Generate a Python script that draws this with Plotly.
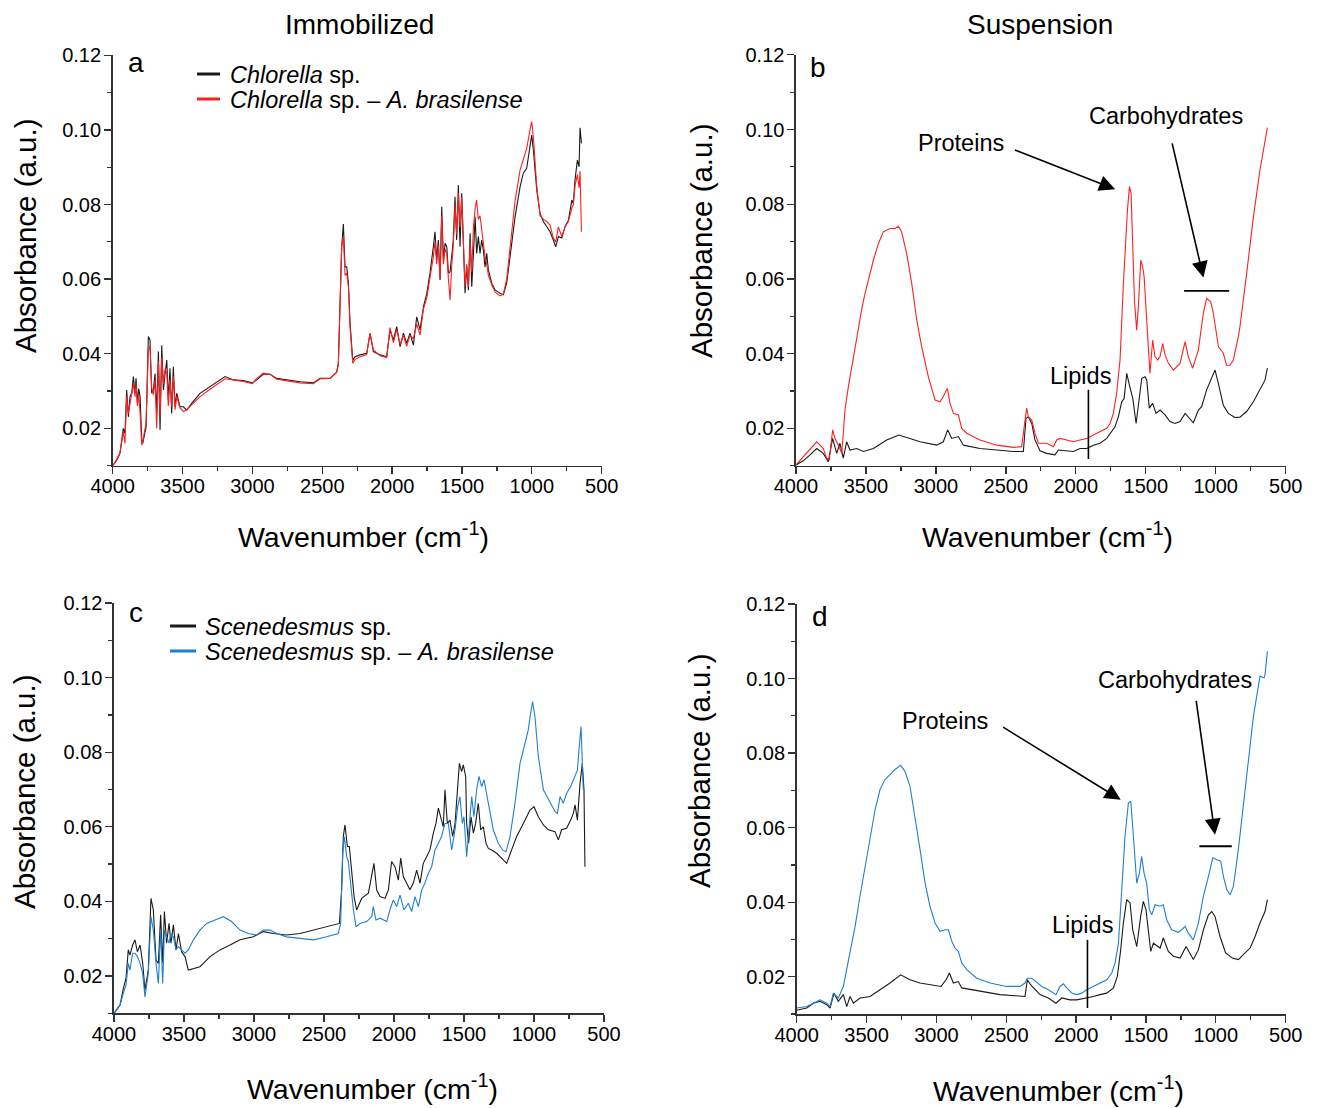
import plotly.graph_objects as go

W, H = 1317, 1108
FONT = "Arial, Liberation Sans, sans-serif"
BLACK = "#1a1a1a"
RED = "#ff1f1f"
BLUE = "#1f7fd0"

# ---------------- Panel a (immobilized Chlorella) ----------------
a_wn = [4000, 3971, 3948, 3936, 3924, 3912, 3900, 3888, 3876, 3864, 3852, 3840, 3833, 3823, 3814, 3804,
        3792, 3785, 3773, 3761, 3745, 3733, 3721, 3709, 3697, 3685, 3673, 3661, 3649, 3637, 3625, 3613,
        3602, 3590, 3578, 3566, 3554, 3542, 3518, 3494, 3470, 3435, 3375, 3303, 3232, 3196, 3136, 3065,
        3000, 2969, 2922, 2874, 2826, 2755, 2659, 2564, 2516, 2444, 2397, 2385, 2373, 2361, 2349, 2337,
        2325, 2313, 2301, 2282, 2265, 2230, 2182, 2158, 2134, 2086, 2039, 2015, 1991, 1967, 1943, 1919,
        1896, 1872, 1848, 1824, 1800, 1776, 1752, 1729, 1705, 1693, 1681, 1669, 1657, 1645, 1633, 1621,
        1609, 1597, 1585, 1573, 1562, 1550, 1538, 1526, 1514, 1502, 1490, 1478, 1466, 1454, 1442, 1430,
        1418, 1406, 1395, 1383, 1371, 1359, 1347, 1335, 1323, 1311, 1287, 1263, 1228, 1204, 1180, 1156,
        1120, 1084, 1061, 1037, 1013, 1001, 989, 965, 941, 917, 894, 870, 846, 829, 810, 786, 762, 738,
        714, 703, 691, 674, 662, 655, 645]
a_chlorella = [0.0100, 0.0115, 0.0133, 0.0173, 0.0200, 0.0187, 0.0303, 0.0231, 0.0285, 0.0294, 0.0339, 0.0294,
               0.0334, 0.0267, 0.0307, 0.0285, 0.0169, 0.0160, 0.0187, 0.0204, 0.0446, 0.0437, 0.0294, 0.0303,
               0.0347, 0.0240, 0.0406, 0.0196, 0.0423, 0.0303, 0.0347, 0.0383, 0.0276, 0.0361, 0.0240, 0.0365,
               0.0258, 0.0294, 0.0258, 0.0258, 0.0249, 0.0267, 0.0294, 0.0312, 0.0330, 0.0339, 0.0330, 0.0328,
               0.0322, 0.0330, 0.0345, 0.0345, 0.0334, 0.0330, 0.0325, 0.0322, 0.0334, 0.0334, 0.0351, 0.0374,
               0.0544, 0.0687, 0.0748, 0.0633, 0.0633, 0.0589, 0.0482, 0.0383, 0.0392, 0.0397, 0.0401, 0.0455,
               0.0406, 0.0397, 0.0392, 0.0464, 0.0437, 0.0473, 0.0419, 0.0455, 0.0428, 0.0455, 0.0423, 0.0499,
               0.0464, 0.0526, 0.0562, 0.0616, 0.0687, 0.0727, 0.0651, 0.0705, 0.0598, 0.0794, 0.0651, 0.0696,
               0.0687, 0.0616, 0.0620, 0.0660, 0.0705, 0.0821, 0.0705, 0.0852, 0.0687, 0.0830, 0.0696, 0.0562,
               0.0633, 0.0571, 0.0723, 0.0580, 0.0669, 0.0767, 0.0669, 0.0714, 0.0669, 0.0705, 0.0678, 0.0633,
               0.0669, 0.0624, 0.0589, 0.0571, 0.0562, 0.0558, 0.0589, 0.0660, 0.0767, 0.0848, 0.0884, 0.0897,
               0.0955, 0.0986, 0.0946, 0.0839, 0.0776, 0.0754, 0.0741, 0.0727, 0.0705, 0.0687, 0.0714, 0.0710,
               0.0741, 0.0758, 0.0812, 0.0803, 0.0866, 0.0919, 0.0901, 0.1006, 0.0964]
a_chlorella_azo = [0.0100, 0.0117, 0.0135, 0.0165, 0.0190, 0.0160, 0.0285, 0.0240, 0.0270, 0.0300, 0.0320, 0.0285,
                   0.0320, 0.0260, 0.0290, 0.0240, 0.0155, 0.0165, 0.0190, 0.0215, 0.0410, 0.0420, 0.0310, 0.0290,
                   0.0330, 0.0200, 0.0380, 0.0230, 0.0390, 0.0320, 0.0360, 0.0350, 0.0260, 0.0330, 0.0260, 0.0340,
                   0.0250, 0.0285, 0.0255, 0.0245, 0.0250, 0.0262, 0.0285, 0.0305, 0.0325, 0.0333, 0.0330, 0.0326,
                   0.0320, 0.0334, 0.0348, 0.0345, 0.0332, 0.0328, 0.0322, 0.0320, 0.0333, 0.0334, 0.0350, 0.0370,
                   0.0520, 0.0690, 0.0714, 0.0610, 0.0616, 0.0580, 0.0470, 0.0375, 0.0385, 0.0392, 0.0398, 0.0455,
                   0.0410, 0.0395, 0.0390, 0.0470, 0.0430, 0.0465, 0.0425, 0.0450, 0.0420, 0.0450, 0.0440, 0.0480,
                   0.0450, 0.0520, 0.0550, 0.0600, 0.0660, 0.0700, 0.0640, 0.0690, 0.0600, 0.0770, 0.0640, 0.0680,
                   0.0670, 0.0600, 0.0544, 0.0640, 0.0690, 0.0800, 0.0720, 0.0830, 0.0740, 0.0820, 0.0680, 0.0580,
                   0.0640, 0.0580, 0.0700, 0.0620, 0.0740, 0.0790, 0.0812, 0.0760, 0.0770, 0.0730, 0.0700, 0.0660,
                   0.0640, 0.0610, 0.0585, 0.0565, 0.0555, 0.0560, 0.0600, 0.0690, 0.0810, 0.0893, 0.0924, 0.0950,
                   0.1000, 0.1022, 0.0980, 0.0850, 0.0770, 0.0760, 0.0755, 0.0745, 0.0710, 0.0700, 0.0740, 0.0715,
                   0.0740, 0.0755, 0.0790, 0.0800, 0.0850, 0.0880, 0.0845, 0.0890, 0.0727]

# ---------------- Panel b (suspension Chlorella) ----------------
b_azo_wn = [4000, 3948, 3900, 3876, 3852, 3828, 3805, 3781, 3762, 3738, 3721, 3697, 3673, 3662, 3650, 3626,
            3602, 3578, 3555, 3531, 3507, 3483, 3447, 3411, 3376, 3328, 3292, 3268, 3245, 3209, 3173, 3137,
            3102, 3054, 3006, 2971, 2947, 2918, 2899, 2875, 2851, 2839, 2816, 2780, 2685, 2566, 2446, 2387,
            2363, 2351, 2339, 2315, 2292, 2268, 2208, 2160, 2137, 2113, 2065, 2018, 1970, 1922, 1875, 1827,
            1779, 1755, 1732, 1708, 1684, 1660, 1643, 1631, 1617, 1605, 1593, 1581, 1565, 1553, 1536, 1522,
            1512, 1493, 1470, 1451, 1434, 1415, 1398, 1379, 1362, 1338, 1303, 1255, 1219, 1196, 1165, 1124,
            1089, 1065, 1036, 1017, 981, 946, 922, 898, 874, 839, 827, 779, 731, 684, 648, 631]
b_chlorella_azo = [0.0102, 0.0124, 0.0146, 0.0155, 0.0164, 0.0155, 0.0146, 0.0120, 0.0116, 0.0196, 0.0173, 0.0155,
                   0.0133, 0.0187, 0.0249, 0.0311, 0.0365, 0.0419, 0.0472, 0.0517, 0.0561, 0.0597, 0.0650, 0.0695,
                   0.0726, 0.0735, 0.0735, 0.0741, 0.0726, 0.0668, 0.0588, 0.0490, 0.0419, 0.0338, 0.0276, 0.0271,
                   0.0285, 0.0307, 0.0267, 0.0240, 0.0236, 0.0236, 0.0200, 0.0187, 0.0169, 0.0155, 0.0149, 0.0151,
                   0.0222, 0.0254, 0.0231, 0.0222, 0.0187, 0.0160, 0.0160, 0.0151, 0.0169, 0.0173, 0.0169, 0.0164,
                   0.0169, 0.0173, 0.0182, 0.0191, 0.0200, 0.0213, 0.0240, 0.0294, 0.0383, 0.0588, 0.0722, 0.0784,
                   0.0847, 0.0829, 0.0686, 0.0543, 0.0463, 0.0526, 0.0650, 0.0633, 0.0606, 0.0472, 0.0347, 0.0436,
                   0.0392, 0.0383, 0.0392, 0.0427, 0.0396, 0.0374, 0.0356, 0.0374, 0.0432, 0.0392, 0.0361, 0.0410,
                   0.0508, 0.0548, 0.0539, 0.0508, 0.0419, 0.0401, 0.0369, 0.0369, 0.0383, 0.0445, 0.0472, 0.0615,
                   0.0766, 0.0891, 0.0971, 0.1005]
b_wn = [4000, 3948, 3900, 3852, 3805, 3769, 3738, 3709, 3686, 3662, 3638, 3614, 3566, 3519, 3447, 3352,
        3264, 3209, 3113, 2994, 2947, 2916, 2887, 2839, 2804, 2685, 2566, 2446, 2375, 2356, 2339, 2315,
        2292, 2256, 2208, 2149, 2125, 2065, 2018, 1970, 1922, 1875, 1827, 1779, 1743, 1720, 1696, 1672,
        1655, 1636, 1617, 1593, 1569, 1545, 1529, 1505, 1493, 1475, 1451, 1427, 1398, 1362, 1327, 1291,
        1255, 1219, 1189, 1160, 1124, 1101, 1065, 1029, 1005, 981, 946, 910, 863, 827, 779, 731, 684, 648, 631]
b_chlorella = [0.0102, 0.0113, 0.0129, 0.0146, 0.0133, 0.0111, 0.0173, 0.0133, 0.0160, 0.0120, 0.0164, 0.0142,
               0.0146, 0.0138, 0.0146, 0.0169, 0.0182, 0.0175, 0.0164, 0.0155, 0.0164, 0.0196, 0.0173, 0.0178,
               0.0155, 0.0146, 0.0142, 0.0138, 0.0138, 0.0227, 0.0231, 0.0213, 0.0169, 0.0140, 0.0133, 0.0129,
               0.0142, 0.0140, 0.0138, 0.0146, 0.0146, 0.0155, 0.0160, 0.0173, 0.0191, 0.0204, 0.0231, 0.0271,
               0.0280, 0.0347, 0.0316, 0.0280, 0.0213, 0.0285, 0.0334, 0.0338, 0.0329, 0.0254, 0.0267, 0.0240,
               0.0249, 0.0236, 0.0218, 0.0213, 0.0218, 0.0240, 0.0227, 0.0215, 0.0249, 0.0258, 0.0303, 0.0338,
               0.0356, 0.0320, 0.0262, 0.0240, 0.0229, 0.0230, 0.0245, 0.0271, 0.0303, 0.0329, 0.0361]

# ---------------- Panel c (immobilized Scenedesmus) ----------------
c_wn = [4000, 3957, 3933, 3914, 3898, 3886, 3867, 3850, 3833, 3814, 3795, 3779, 3755, 3736, 3719, 3700,
        3683, 3667, 3652, 3640, 3624, 3607, 3593, 3576, 3557, 3540, 3517, 3493, 3469, 3433, 3386, 3314,
        3243, 3171, 3100, 3005, 2933, 2862, 2767, 2671, 2576, 2481, 2390, 2374, 2362, 2350, 2333, 2319,
        2302, 2285, 2267, 2231, 2183, 2159, 2143, 2124, 2100, 2064, 2040, 2017, 1993, 1969, 1952, 1933,
        1910, 1886, 1862, 1838, 1814, 1791, 1767, 1743, 1719, 1700, 1683, 1667, 1648, 1636, 1619, 1600,
        1581, 1564, 1545, 1533, 1517, 1505, 1488, 1481, 1467, 1450, 1433, 1417, 1398, 1381, 1362, 1343,
        1326, 1302, 1267, 1231, 1195, 1160, 1124, 1076, 1029, 1000, 969, 933, 897, 850, 826, 803, 767,
        738, 719, 707, 690, 671, 655, 643, 636]
c_scenedesmus = [0.0100, 0.0122, 0.0167, 0.0194, 0.0270, 0.0256, 0.0283, 0.0297, 0.0265, 0.0283, 0.0234, 0.0162,
                 0.0216, 0.0408, 0.0377, 0.0243, 0.0234, 0.0364, 0.0234, 0.0373, 0.0288, 0.0341, 0.0288, 0.0337,
                 0.0270, 0.0314, 0.0265, 0.0252, 0.0216, 0.0220, 0.0225, 0.0252, 0.0270, 0.0283, 0.0297, 0.0305,
                 0.0319, 0.0314, 0.0310, 0.0314, 0.0323, 0.0331, 0.0341, 0.0431, 0.0574, 0.0605, 0.0547, 0.0547,
                 0.0476, 0.0413, 0.0377, 0.0408, 0.0422, 0.0466, 0.0502, 0.0431, 0.0413, 0.0408, 0.0431, 0.0507,
                 0.0493, 0.0457, 0.0516, 0.0466, 0.0449, 0.0431, 0.0449, 0.0484, 0.0449, 0.0502, 0.0520, 0.0538,
                 0.0583, 0.0609, 0.0650, 0.0627, 0.0600, 0.0699, 0.0609, 0.0618, 0.0574, 0.0609, 0.0717, 0.0770,
                 0.0748, 0.0766, 0.0735, 0.0609, 0.0556, 0.0627, 0.0583, 0.0609, 0.0663, 0.0592, 0.0600, 0.0556,
                 0.0542, 0.0538, 0.0529, 0.0516, 0.0502, 0.0538, 0.0574, 0.0609, 0.0645, 0.0654, 0.0627, 0.0605,
                 0.0592, 0.0587, 0.0565, 0.0592, 0.0596, 0.0618, 0.0636, 0.0659, 0.0618, 0.0717, 0.0770, 0.0699,
                 0.0493]
c_azo_wn = [4000, 3957, 3933, 3914, 3898, 3886, 3867, 3850, 3833, 3814, 3795, 3779, 3755, 3736, 3719, 3700,
            3683, 3667, 3652, 3640, 3624, 3607, 3593, 3576, 3557, 3540, 3517, 3493, 3469, 3433, 3386, 3338,
            3279, 3219, 3160, 3100, 3040, 2981, 2933, 2886, 2838, 2767, 2671, 2576, 2481, 2398, 2381, 2367,
            2355, 2338, 2326, 2309, 2290, 2271, 2243, 2195, 2159, 2148, 2129, 2100, 2052, 2029, 2005, 1981,
            1957, 1929, 1898, 1874, 1850, 1826, 1802, 1779, 1755, 1731, 1707, 1683, 1660, 1636, 1612, 1588,
            1564, 1545, 1529, 1512, 1500, 1481, 1464, 1445, 1429, 1410, 1393, 1374, 1357, 1338, 1319, 1291,
            1255, 1224, 1200, 1171, 1136, 1100, 1064, 1041, 1024, 1010, 993, 969, 933, 897, 850, 833, 814,
            791, 767, 738, 707, 690, 679, 664, 648]
c_scenedesmus_azo = [0.0100, 0.0122, 0.0154, 0.0176, 0.0234, 0.0216, 0.0261, 0.0261, 0.0252, 0.0234, 0.0207, 0.0144,
                     0.0207, 0.0359, 0.0323, 0.0234, 0.0180, 0.0323, 0.0180, 0.0323, 0.0305, 0.0288, 0.0314, 0.0305,
                     0.0270, 0.0279, 0.0270, 0.0261, 0.0270, 0.0297, 0.0323, 0.0341, 0.0350, 0.0359, 0.0346, 0.0323,
                     0.0314, 0.0310, 0.0323, 0.0323, 0.0314, 0.0305, 0.0301, 0.0297, 0.0305, 0.0314, 0.0341, 0.0529,
                     0.0574, 0.0520, 0.0507, 0.0449, 0.0377, 0.0332, 0.0341, 0.0346, 0.0359, 0.0386, 0.0350, 0.0355,
                     0.0346, 0.0377, 0.0404, 0.0386, 0.0417, 0.0377, 0.0395, 0.0373, 0.0413, 0.0386, 0.0431, 0.0449,
                     0.0475, 0.0493, 0.0538, 0.0556, 0.0574, 0.0609, 0.0609, 0.0538, 0.0592, 0.0654, 0.0681, 0.0609,
                     0.0627, 0.0520, 0.0592, 0.0681, 0.0627, 0.0699, 0.0735, 0.0708, 0.0726, 0.0690, 0.0654, 0.0592,
                     0.0556, 0.0538, 0.0533, 0.0574, 0.0663, 0.0770, 0.0824, 0.0860, 0.0904, 0.0936, 0.0895, 0.0788,
                     0.0699, 0.0672, 0.0641, 0.0636, 0.0681, 0.0663, 0.0690, 0.0708, 0.0739, 0.0752, 0.0806, 0.0869,
                     0.0699]

# ---------------- Panel d (suspension Scenedesmus) ----------------
d_azo_wn = [4000, 3928, 3881, 3833, 3785, 3761, 3738, 3702, 3666, 3642, 3618, 3582, 3547, 3511, 3475, 3439,
            3404, 3368, 3332, 3296, 3256, 3225, 3189, 3153, 3117, 3081, 3046, 3010, 2974, 2938, 2914, 2890,
            2867, 2843, 2819, 2783, 2712, 2616, 2497, 2401, 2366, 2349, 2318, 2287, 2246, 2199, 2163, 2144,
            2115, 2091, 2067, 2032, 1996, 1960, 1924, 1876, 1829, 1781, 1745, 1721, 1697, 1673, 1650, 1626,
            1609, 1590, 1566, 1547, 1531, 1514, 1495, 1476, 1459, 1435, 1399, 1376, 1352, 1316, 1268, 1245,
            1220, 1197, 1161, 1125, 1089, 1053, 1022, 993, 965, 946, 922, 898, 874, 839, 803, 767, 731, 684,
            655, 648, 631]
d_scenedesmus_azo = [0.0116, 0.0120, 0.0129, 0.0138, 0.0129, 0.0120, 0.0156, 0.0143, 0.0174, 0.0219, 0.0264, 0.0335,
                     0.0416, 0.0496, 0.0577, 0.0648, 0.0702, 0.0729, 0.0742, 0.0756, 0.0767, 0.0751, 0.0711, 0.0630,
                     0.0541, 0.0451, 0.0389, 0.0344, 0.0322, 0.0326, 0.0326, 0.0295, 0.0277, 0.0268, 0.0237, 0.0219,
                     0.0196, 0.0183, 0.0174, 0.0174, 0.0183, 0.0196, 0.0196, 0.0187, 0.0174, 0.0165, 0.0156, 0.0152,
                     0.0174, 0.0181, 0.0170, 0.0156, 0.0152, 0.0156, 0.0165, 0.0174, 0.0183, 0.0192, 0.0210, 0.0237,
                     0.0290, 0.0434, 0.0577, 0.0666, 0.0671, 0.0577, 0.0451, 0.0478, 0.0523, 0.0478, 0.0451, 0.0380,
                     0.0366, 0.0393, 0.0389, 0.0393, 0.0353, 0.0326, 0.0319, 0.0326, 0.0335, 0.0317, 0.0299, 0.0344,
                     0.0416, 0.0469, 0.0519, 0.0514, 0.0510, 0.0469, 0.0434, 0.0420, 0.0443, 0.0541, 0.0657, 0.0783,
                     0.0899, 0.1006, 0.1002, 0.1010, 0.1073]
d_wn = [4000, 3928, 3881, 3833, 3785, 3761, 3733, 3702, 3666, 3642, 3618, 3594, 3547, 3475, 3404, 3332,
        3256, 3189, 3117, 3022, 2967, 2931, 2907, 2879, 2843, 2819, 2688, 2545, 2366, 2349, 2325, 2294,
        2258, 2199, 2144, 2103, 2044, 1996, 1924, 1876, 1829, 1781, 1733, 1705, 1681, 1662, 1638, 1614,
        1595, 1566, 1538, 1519, 1500, 1483, 1466, 1447, 1419, 1399, 1376, 1340, 1304, 1256, 1213, 1185,
        1161, 1125, 1089, 1053, 1029, 1006, 970, 930, 882, 839, 791, 755, 719, 684, 648, 631]
d_scenedesmus = [0.0110, 0.0116, 0.0129, 0.0134, 0.0125, 0.0116, 0.0156, 0.0134, 0.0152, 0.0120, 0.0147, 0.0129,
                 0.0143, 0.0147, 0.0165, 0.0183, 0.0205, 0.0192, 0.0183, 0.0178, 0.0174, 0.0192, 0.0210, 0.0183,
                 0.0187, 0.0170, 0.0161, 0.0152, 0.0147, 0.0192, 0.0178, 0.0165, 0.0152, 0.0143, 0.0129, 0.0143,
                 0.0138, 0.0138, 0.0143, 0.0147, 0.0152, 0.0156, 0.0170, 0.0201, 0.0272, 0.0344, 0.0407, 0.0398,
                 0.0326, 0.0281, 0.0362, 0.0402, 0.0380, 0.0326, 0.0268, 0.0290, 0.0281, 0.0277, 0.0304, 0.0268,
                 0.0255, 0.0250, 0.0281, 0.0263, 0.0246, 0.0272, 0.0326, 0.0366, 0.0375, 0.0362, 0.0308, 0.0264,
                 0.0250, 0.0246, 0.0264, 0.0277, 0.0308, 0.0344, 0.0375, 0.0407]

# ---------------- Text ----------------
titles = ["Immobilized", "Suspension"]
panel_letters = ["a", "b", "c", "d"]
y_ticks = [0.02, 0.04, 0.06, 0.08, 0.10, 0.12]
y_tick_text = ["0.02", "0.04", "0.06", "0.08", "0.10", "0.12"]
x_ticks = [4000, 3500, 3000, 2500, 2000, 1500, 1000, 500]

fig = go.Figure()

def add(xs, ys, color, n):
    fig.add_trace(go.Scatter(x=xs, y=ys, mode="lines", line=dict(color=color, width=1.1),
                             xaxis="x" if n == 1 else f"x{n}", yaxis="y" if n == 1 else f"y{n}",
                             showlegend=False, hoverinfo="skip"))

add(a_wn, a_chlorella, BLACK, 1)
add(a_wn, a_chlorella_azo, RED, 1)
add(b_wn, b_chlorella, BLACK, 2)
add(b_azo_wn, b_chlorella_azo, RED, 2)
add(c_wn, c_scenedesmus, BLACK, 3)
add(c_azo_wn, c_scenedesmus_azo, BLUE, 3)
add(d_wn, d_scenedesmus, BLACK, 4)
add(d_azo_wn, d_scenedesmus_azo, BLUE, 4)

def px(x):
    return x / W

def py(y):
    return 1 - y / H

domains = {
    1: ([112.7, 601.7], [55.3, 465.7]),
    2: ([796.0, 1285.7], [54.8, 465.7]),
    3: ([114.0, 604.0], [603.0, 1013.3]),
    4: ([796.7, 1285.7], [604.0, 1014.0]),
}
layout = dict(template="none", width=W, height=H, autosize=False,
              margin=dict(l=0, r=0, t=0, b=0, pad=0, autoexpand=False),
              paper_bgcolor="white", plot_bgcolor="white", showlegend=False,
              font=dict(family=FONT, color="black"))
axcol = "#333333"
for n, (xd, yd) in domains.items():
    sx = "" if n == 1 else str(n)
    layout[f"xaxis{sx}"] = dict(
        domain=[px(xd[0]), px(xd[1])], range=[4000, 500], anchor=f"y{sx}", automargin=False,
        tickvals=x_ticks, ticks="outside", ticklen=7, tickwidth=1.3, tickcolor=axcol, ticklabelstandoff=-5,
        showline=True, linecolor=axcol, linewidth=1.6, showgrid=False, zeroline=False,
        tickfont=dict(size=20, family=FONT, color="black"),
        minor=dict(dtick=250, tick0=500, ticks="outside", ticklen=4, tickwidth=1.2, tickcolor=axcol, showgrid=False),
    )
    layout[f"yaxis{sx}"] = dict(
        domain=[py(yd[1]), py(yd[0])], range=[0.01, 0.12], anchor=f"x{sx}", automargin=False,
        tickvals=y_ticks, ticktext=y_tick_text, ticks="outside", ticklen=7, tickwidth=1.3, tickcolor=axcol,
        ticklabelstandoff=-1,
        showline=True, linecolor=axcol, linewidth=1.6, showgrid=False, zeroline=False,
        tickfont=dict(size=20, family=FONT, color="black"),
        minor=dict(dtick=0.01, tick0=0.01, ticks="outside", ticklen=4, tickwidth=1.2, tickcolor=axcol, showgrid=False),
    )

ann = []
shapes = []

def txt(text, x, y, size, xanchor="center", yanchor="middle"):
    ann.append(dict(text=text, x=px(x), y=py(y), xref="paper", yref="paper", showarrow=False,
                    xanchor=xanchor, yanchor=yanchor, font=dict(size=size, family=FONT, color="black")))

# column titles
txt(titles[0], 359, 25, 28)
txt(titles[1], 1040, 25, 28)
# panel letters
txt(panel_letters[0], 136, 62, 28)
txt(panel_letters[1], 818, 68, 28)
txt(panel_letters[2], 136, 612, 28)
txt(panel_letters[3], 820, 616, 28)
# axis titles
xt = "Wavenumber (cm<sup>-1</sup>)"
txt(xt, 363, 535, 28.5)
txt(xt, 1047, 535, 28.5)
txt(xt, 373, 1087, 28.5)
txt(xt, 1058, 1089, 28.5)
for (x, y) in [(25, 236), (702, 241), (24, 792), (699, 771)]:
    ann.append(dict(text="Absorbance (a.u.)", x=px(x), y=py(y), xref="paper", yref="paper", showarrow=False,
                    textangle=-90, xanchor="center", yanchor="middle",
                    font=dict(size=29.5, family=FONT, color="black")))

# legends
leg = [
    (197, 220, 74, BLACK, "<i>Chlorella</i> sp.", 228),
    (197, 220, 99, RED, "<i>Chlorella</i> sp. \u2013 <i>A. brasilense</i>", 228),
    (170, 196, 626, BLACK, "<i>Scenedesmus</i> sp.", 203),
    (170, 196, 651, BLUE, "<i>Scenedesmus</i> sp. \u2013 <i>A. brasilense</i>", 203),
]
for x0, x1, y, col, t, tx in leg:
    shapes.append(dict(type="line", xref="paper", yref="paper", x0=px(x0), x1=px(x1), y0=py(y), y1=py(y),
                       line=dict(color=col, width=3)))
    txt(t, tx, y + 1, 23.5, xanchor="left")

# annotations: Proteins / Carbohydrates / Lipids
txt("Proteins", 961, 143, 23.5)
txt("Carbohydrates", 1165.5, 116, 23.5)
txt("Lipids", 1080.5, 376, 23.5)
txt("Proteins", 945.3, 721, 23.5)
txt("Carbohydrates", 1174.7, 680, 23.5)
txt("Lipids", 1082.5, 925, 23.5)

def arrow(xr, yr, tip, tail):
    ann.append(dict(x=tip[0], y=tip[1], ax=tail[0], ay=tail[1], xref=xr, yref=yr, axref=xr, ayref=yr,
                    text="", showarrow=True, arrowhead=2, arrowsize=2.0, arrowwidth=1.6, arrowcolor="black",
                    standoff=0))

arrow("x2", "y2", (1719, 0.0840), (2446, 0.0947))
arrow("x2", "y2", (1088, 0.0604), (1314, 0.0967))
arrow("x4", "y4", (1681, 0.0675), (2533, 0.0872))
arrow("x4", "y4", (1006, 0.0581), (1142, 0.0944))

# carbohydrate bars and lipid markers
shapes.append(dict(type="line", xref="x2", yref="y2", x0=1226, x1=904, y0=0.0568, y1=0.0568,
                   line=dict(color="black", width=1.8)))
shapes.append(dict(type="line", xref="x2", yref="y2", x0=1910, x1=1910, y0=0.0303, y1=0.0118,
                   line=dict(color="black", width=1.6)))
shapes.append(dict(type="line", xref="x4", yref="y4", x0=1118, x1=886, y0=0.0550, y1=0.0550,
                   line=dict(color="black", width=1.8)))
shapes.append(dict(type="line", xref="x4", yref="y4", x0=1919, x1=1919, y0=0.0299, y1=0.0116,
                   line=dict(color="black", width=1.6)))

layout["annotations"] = ann
layout["shapes"] = shapes
fig.update_layout(**layout)
fig.write_html("out.html", config={"displayModeBar": False, "staticPlot": True},
               post_script="document.body.style.margin='0px';document.body.style.overflow='hidden';")
